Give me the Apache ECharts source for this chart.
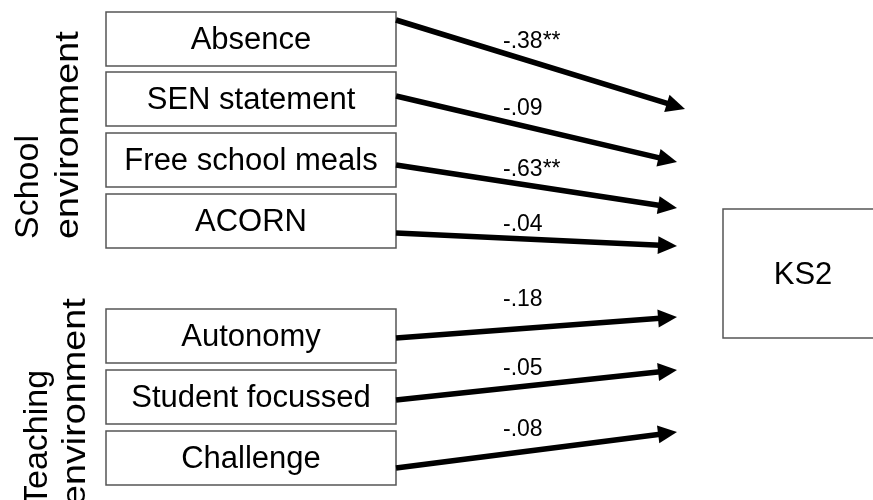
<!DOCTYPE html>
<html>
<head>
<meta charset="utf-8">
<script src="https://cdn.jsdelivr.net/npm/echarts@6/dist/echarts.min.js"></script>
<style>
html,body{margin:0;padding:0;background:#fff;}
#chart{width:873px;height:500px;}
</style>
</head>
<body>
<div id="chart"></div>
<script>
// ---- data ----
const predictors = ['Absence', 'SEN statement', 'Free school meals', 'ACORN', 'Autonomy', 'Student focussed', 'Challenge'];
const coefficients = [-0.38, -0.09, -0.63, -0.04, -0.18, -0.05, -0.08];
const significance = ['**', '', '**', '', '', '', ''];
const groupNames = [['School', 'environment'], ['Teaching', 'environment']];
const outcome = 'KS2';

// ---- layout (diagram positions, in canvas units) ----
const boxLeft = 106, boxRight = 396, boxH = 54;
const boxTops = [12, 72, 133, 194, 309, 370, 431];
const arrowStartY = [20, 96, 165, 233, 338, 400, 468];
const arrowTips = [[685, 109], [677, 162], [677, 208], [677, 246], [677, 317], [677, 370], [677, 432]];
const coefLabelX = 503;
const coefLabelY = [42, 109, 170, 225, 300, 369, 430];
const groupLayout = [
  { lineX: [28.5, 68.5], bottomY: 239, stretch: [1.0, 1.11] },
  { lineX: [37.5, 76], bottomY: 506, stretch: [1.0, 1.11] }
];
const outcomeBox = { x0: 723, y0: 209, x1: 905, y1: 338, textX: 803, textY: 275 };

const FONT = '"Liberation Sans", Arial, Helvetica, sans-serif';

function fmtCoef(v, sig) {
  const s = Math.abs(v).toFixed(2).replace(/^0/, '');
  return (v < 0 ? '-' : '') + s + sig;
}

const chart = echarts.init(document.getElementById('chart'), null, { renderer: 'canvas' });

const option = {
  animation: false,
  backgroundColor: '#ffffff',
  grid: { left: 0, right: 0, top: 0, bottom: 0 },
  xAxis: { type: 'value', min: 0, max: 873, show: false },
  yAxis: { type: 'value', min: 0, max: 500, inverse: true, show: false },
  series: [
    {
      type: 'custom',
      coordinateSystem: 'cartesian2d',
      data: predictors.map((p, i) => [i, coefficients[i]]),
      renderItem: function (params, api) {
        const i = params.dataIndex;
        const tl = api.coord([boxLeft, boxTops[i]]);
        const br = api.coord([boxRight, boxTops[i] + boxH]);
        const start = api.coord([boxRight, arrowStartY[i]]);
        const tip = api.coord(arrowTips[i]);
        const dx = tip[0] - start[0], dy = tip[1] - start[1];
        const len = Math.sqrt(dx * dx + dy * dy);
        const ux = dx / len, uy = dy / len;
        const nx = -uy, ny = ux;
        const headL = 19, headW = 9;
        const bx = tip[0] - ux * headL, by = tip[1] - uy * headL;
        const lab = api.coord([coefLabelX, coefLabelY[i]]);
        return {
          type: 'group',
          children: [
            {
              type: 'rect',
              shape: { x: tl[0], y: tl[1], width: br[0] - tl[0], height: br[1] - tl[1] },
              style: { fill: '#ffffff', stroke: '#555555', lineWidth: 1.5 }
            },
            {
              type: 'text',
              x: (tl[0] + br[0]) / 2,
              y: (tl[1] + br[1]) / 2 + 1,
              style: {
                text: predictors[i], fill: '#000000',
                font: '31px ' + FONT, align: 'center', verticalAlign: 'middle'
              }
            },
            {
              type: 'line',
              shape: { x1: start[0], y1: start[1], x2: bx + ux * 2, y2: by + uy * 2 },
              style: { stroke: '#000000', lineWidth: 5.5 }
            },
            {
              type: 'polygon',
              shape: { points: [tip, [bx + nx * headW, by + ny * headW], [bx - nx * headW, by - ny * headW]] },
              style: { fill: '#000000' }
            },
            {
              type: 'text',
              x: lab[0],
              y: lab[1],
              style: {
                text: fmtCoef(coefficients[i], significance[i]), fill: '#000000',
                font: '23px ' + FONT, align: 'left', verticalAlign: 'middle'
              }
            }
          ]
        };
      }
    },
    {
      type: 'custom',
      coordinateSystem: 'cartesian2d',
      data: groupNames.map((g, i) => [i, 0]),
      renderItem: function (params, api) {
        const g = groupLayout[params.dataIndex];
        const names = groupNames[params.dataIndex];
        return {
          type: 'group',
          children: names.map((t, k) => {
            const p = api.coord([g.lineX[k], g.bottomY]);
            return {
              type: 'text',
              x: p[0], y: p[1],
              rotation: Math.PI / 2,
              scaleX: g.stretch[k],
              style: {
                text: t, fill: '#000000',
                font: '34px ' + FONT, align: 'left', verticalAlign: 'middle'
              }
            };
          })
        };
      }
    },
    {
      type: 'custom',
      coordinateSystem: 'cartesian2d',
      data: [[0, 0]],
      renderItem: function (params, api) {
        const a = api.coord([outcomeBox.x0, outcomeBox.y0]);
        const b = api.coord([outcomeBox.x1, outcomeBox.y1]);
        const t = api.coord([outcomeBox.textX, outcomeBox.textY]);
        return {
          type: 'group',
          children: [
            {
              type: 'rect',
              shape: { x: a[0], y: a[1], width: b[0] - a[0], height: b[1] - a[1] },
              style: { fill: '#ffffff', stroke: '#555555', lineWidth: 1.5 }
            },
            {
              type: 'text',
              x: t[0], y: t[1],
              style: {
                text: outcome, fill: '#000000',
                font: '31px ' + FONT, align: 'center', verticalAlign: 'middle'
              }
            }
          ]
        };
      }
    }
  ]
};

chart.setOption(option);
</script>
</body>
</html>
